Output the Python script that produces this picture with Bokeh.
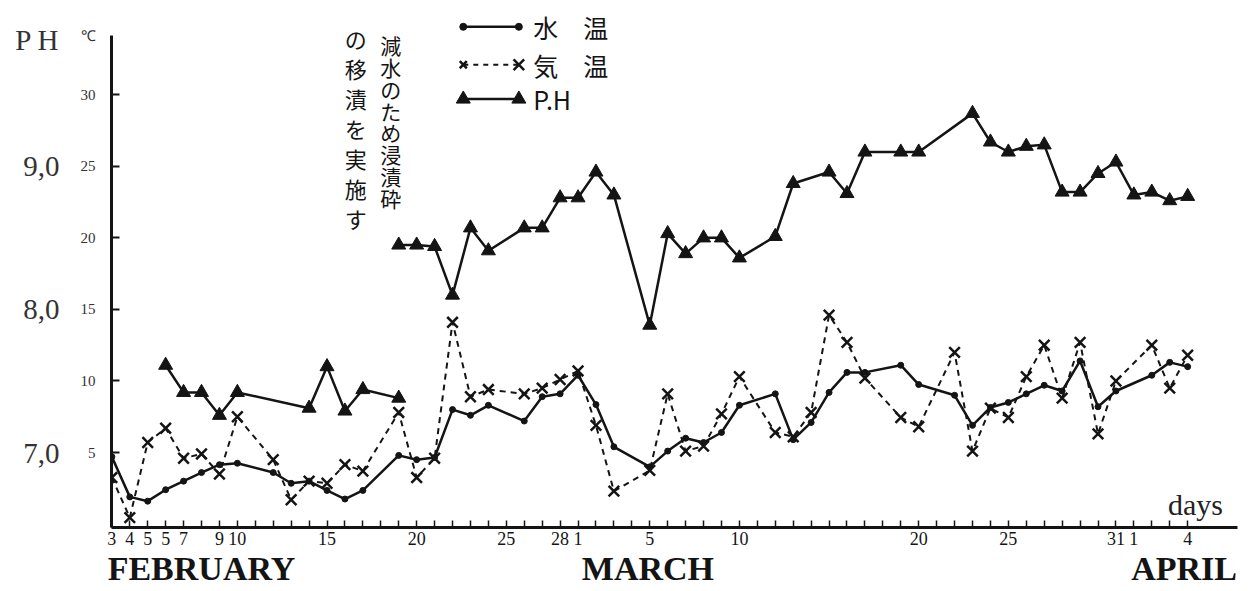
from bokeh.plotting import figure
from bokeh.models import Range1d, LinearAxis, FixedTicker, Label
from bokeh.core.properties import value
from bokeh.embed import file_html
from bokeh.resources import INLINE

# ---- data (day index: 0 = Feb 3, 26 = Mar 1, 57 = Apr 1) ----
DAYS = [0, 1, 2, 3, 4, 5, 6, 7, 9, 10, 11, 12, 13, 14, 16, 17, 18, 19, 20, 21,
        23, 24, 25, 26, 27, 28, 30, 31, 32, 33, 34, 35, 37, 38, 39, 40, 41, 42,
        44, 45, 47, 48, 49, 50, 51, 52, 53, 54, 55, 56, 58, 59, 60]
WATER_T = [4.7, 1.9, 1.6, 2.4, 3.0, 3.6, 4.15, 4.25, 3.6, 2.85, 3.0, 2.35, 1.75, 2.35,
           4.8, 4.5, 4.65, 8.0, 7.6, 8.3, 7.2, 8.9, 9.1, 10.4, 8.35, 5.4,
           4.0, 5.1, 6.0, 5.7, 6.4, 8.3, 9.1, 5.9, 7.1, 9.2, 10.6, 10.6,
           11.1, 9.75, 9.0, 6.9, 8.15, 8.5, 9.1, 9.7, 9.3, 11.4, 8.2, 9.3,
           10.4, 11.3, 11.0]
AIR_T = [3.25, 0.45, 5.7, 6.7, 4.6, 4.9, 3.5, 7.5, 4.5, 1.7, 3.0, 2.85, 4.15, 3.7,
         7.8, 3.25, 4.6, 14.1, 8.9, 9.4, 9.1, 9.5, 10.1, 10.7, 6.9, 2.3,
         3.75, 9.1, 5.1, 5.45, 7.7, 10.3, 6.4, 6.1, 7.8, 14.6, 12.7, 10.2,
         7.45, 6.8, 12.0, 5.1, 8.1, 7.45, 10.3, 12.5, 8.8, 12.7, 6.3, 10.0,
         12.5, 9.5, 11.8]
PH1_DAYS = [3, 4, 5, 6, 7, 11, 12, 13, 14, 16]
PH1 = [7.61, 7.42, 7.42, 7.26, 7.42, 7.31, 7.60, 7.29, 7.44, 7.38]
PH2_DAYS = [16, 17, 18, 19, 20, 21, 23, 24, 25, 26, 27, 28, 30, 31, 32, 33, 34, 35,
            37, 38, 40, 41, 42, 44, 45, 48, 49, 50, 51, 52, 53, 54, 55, 56, 57, 58, 59, 60]
PH2 = [8.45, 8.45, 8.44, 8.10, 8.57, 8.41, 8.57, 8.57, 8.78, 8.78, 8.96, 8.80,
       7.89, 8.53, 8.39, 8.50, 8.50, 8.36, 8.51, 8.88, 8.96, 8.81, 9.10, 9.10, 9.10,
       9.37, 9.17, 9.10, 9.14, 9.15, 8.82, 8.82, 8.95, 9.03, 8.80, 8.82, 8.76, 8.79]

TICK_DAYS = [0, 1, 2, 3, 4, 6, 7, 12, 17, 22, 25, 26, 30, 35, 45, 50, 56, 57, 60]
TICK_LABELS = ["3", "4", "5", "5", "7", "9", "10", "15", "20", "25", "28", "1",
               "5", "10", "20", "25", "31", "1", "4"]
TEMP_TICKS = [5, 10, 15, 20, 25, 30]
PH_TICKS = [7, 8, 9]
PH_LABELS = ["7,0", "8,0", "9,0"]
MONTHS = ["FEBRUARY", "MARCH", "APRIL"]
MONTH_POS = [5.0, 29.9, 59.8]
LEGEND_LABELS = ["水　温", "気　温", "P.H"]
NOTE_RIGHT = "減水のため浸漬砕"
NOTE_LEFT = "の移漬を実施す"
PH_TITLE, TEMP_TITLE, X_TITLE = "P H", "℃", "days"

INK = "#141414"
SERIF = "Liberation Serif"
CJK = "Noto Sans CJK JP"

# ---- geometry ----
PX_DAY = 17.93
PX_DEG = 14.31
W, H = 1249, 591
BL, BT, BB, BR = 111, 10, 64, 0
fw, fh = W - BL - BR, H - BT - BB
x0 = -0.02
x1 = x0 + fw / PX_DAY
y0 = -0.24
y1 = y0 + fh / PX_DEG

p = figure(width=W, height=H, x_range=Range1d(x0, x1), y_range=Range1d(y0, y1),
           output_backend="svg", toolbar_location=None,
           min_border_left=BL, min_border_right=BR, min_border_top=BT, min_border_bottom=BB)
p.extra_y_ranges = {"ph": Range1d(6.5 + y0 / 10, 6.5 + y1 / 10)}
p.outline_line_color = None
p.grid.visible = False
p.background_fill_color = "white"

# x axis (day ticks)
xa = p.xaxis[0]
xa.ticker = FixedTicker(ticks=list(range(0, 61)))
ov = {d: "" for d in range(0, 61)}
for d, t in zip(TICK_DAYS, TICK_LABELS):
    ov[d] = t
xa.major_label_overrides = ov
xa.bounds = (0, 62.8)
xa.axis_line_width = 3
xa.axis_line_color = INK
xa.major_tick_in = 7
xa.major_tick_out = 0
xa.major_tick_line_width = 1.5
xa.major_tick_line_color = INK
xa.minor_tick_line_color = None
xa.major_label_standoff = 4
xa.major_label_text_font = SERIF
xa.major_label_text_font_size = "18px"
xa.major_label_text_color = INK

# month names axis
ma = LinearAxis(ticker=FixedTicker(ticks=MONTH_POS),
                major_label_overrides={t: m for t, m in zip(MONTH_POS, MONTHS)},
                axis_line_color=None, major_tick_line_color=None, minor_tick_line_color=None,
                major_label_standoff=-4, major_label_text_font=SERIF,
                major_label_text_font_size="34px", major_label_text_font_style="bold",
                major_label_text_color=INK)
p.add_layout(ma, "below")

# temperature axis: line + ticks
ya = p.yaxis[0]
ya.ticker = FixedTicker(ticks=TEMP_TICKS)
ya.major_label_overrides = {t: "" for t in TEMP_TICKS}
ya.major_label_standoff = 0
ya.bounds = (y0, 34.14)
ya.axis_line_width = 3
ya.axis_line_color = INK
ya.major_tick_in = 8
ya.major_tick_out = 0
ya.major_tick_line_width = 2
ya.major_tick_line_color = INK
ya.minor_tick_line_color = None

# temperature labels (+ unit at top)
TEMP_UNIT_AT = 34.14
ta = LinearAxis(ticker=FixedTicker(ticks=TEMP_TICKS + [TEMP_UNIT_AT]),
                major_label_overrides={TEMP_UNIT_AT: TEMP_TITLE},
                axis_line_color=None, major_tick_line_color=None, minor_tick_line_color=None,
                major_label_standoff=10, major_label_text_font=SERIF,
                major_label_text_font_size="15px", major_label_text_color="#333333")
p.add_layout(ta, "left")

# pH axis (outer left, + title at top)
PH_TITLE_AT = 9.88
pa = LinearAxis(y_range_name="ph", ticker=FixedTicker(ticks=PH_TICKS + [PH_TITLE_AT]),
                major_label_overrides=dict(zip(PH_TICKS + [PH_TITLE_AT], PH_LABELS + [PH_TITLE])),
                axis_line_color=None, major_tick_line_color=None, minor_tick_line_color=None,
                major_label_standoff=12, major_label_text_font=SERIF,
                major_label_text_font_size="29px", major_label_text_color="#333333")
p.add_layout(pa, "left")

# ---- series ----
p.line(DAYS, WATER_T, line_width=2.5, line_color=INK)
p.scatter(DAYS, WATER_T, marker="circle", size=6, fill_color=INK, line_color=INK)

p.line(DAYS, AIR_T, line_width=2, line_color=INK, line_dash="6 5")
p.scatter(DAYS, AIR_T, marker="x", size=15, line_width=2.5, line_color=INK)

for dd, vv in ((PH1_DAYS, PH1), (PH2_DAYS, PH2)):
    p.line(dd, vv, y_range_name="ph", line_width=2.5, line_color=INK)
    p.scatter(dd, vv, y_range_name="ph", marker="triangle", size=14,
              fill_color=INK, line_color=INK)

# ---- hand legend ----
lx0, lx1, ltx = 19.6, 22.7, 23.5
rows = [34.75, 32.1, 29.7]
p.line([lx0, lx1], [rows[0]] * 2, line_width=2.5, line_color=INK)
p.scatter([lx0, lx1], [rows[0]] * 2, marker="circle", size=7, fill_color=INK, line_color=INK)
p.line([lx0, lx1], [rows[1]] * 2, line_width=2, line_color=INK, line_dash="5 5")
p.scatter([lx0, lx1], [rows[1]] * 2, marker="x", size=[10, 15], line_width=2.5, line_color=INK)
p.line([lx0, lx1], [rows[2]] * 2, line_width=2.5, line_color=INK)
p.scatter([lx0, lx1], [rows[2]] * 2, marker="triangle", size=14, fill_color=INK, line_color=INK)
p.text([ltx] * 3, rows, text=LEGEND_LABELS, text_font=value(CJK), text_font_size="25px",
       text_baseline="middle", text_align="left", text_color=INK)

# ---- vertical note ----
rx, lxn = 15.56, 13.6
r_top, r_step = 33.45, 1.52
l_top, l_step = 34.0, 2.1
p.text([rx] * len(NOTE_RIGHT), [r_top - i * r_step for i in range(len(NOTE_RIGHT))],
       text=list(NOTE_RIGHT), text_font=value(CJK), text_font_size="21px",
       text_align="center", text_baseline="middle", text_color=INK)
p.text([lxn] * len(NOTE_LEFT), [l_top - i * l_step for i in range(len(NOTE_LEFT))],
       text=list(NOTE_LEFT), text_font=value(CJK), text_font_size="22px",
       text_align="center", text_baseline="middle", text_color=INK)

# ---- x unit ----
p.add_layout(Label(x=58.9, y=1.37, text=X_TITLE, text_font=SERIF, text_font_size="30px",
                   text_color="#222222", text_baseline="alphabetic"))

open("out.html", "w").write(file_html(p, INLINE))
